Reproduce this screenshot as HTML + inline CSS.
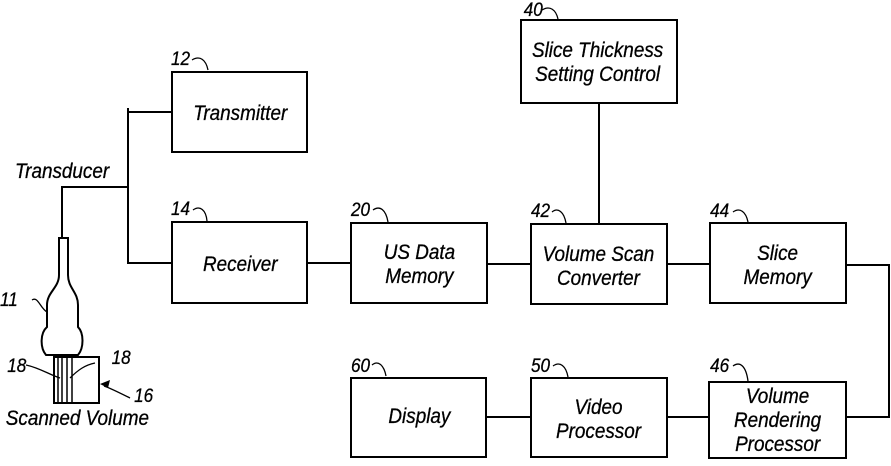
<!DOCTYPE html><html><head><style>body{margin:0;background:#fff}svg text{font-family:"Liberation Sans",sans-serif;font-style:italic;font-size:21px;fill:#000;stroke:#000;stroke-width:0.3}</style></head><body>
<svg width="891" height="461" viewBox="0 0 891 461" xmlns="http://www.w3.org/2000/svg">
<g fill="none" stroke="#000" stroke-width="2">
<rect x="172" y="72" width="135" height="80"/>
<rect x="521" y="20" width="156" height="83"/>
<rect x="172" y="222" width="135" height="81"/>
<rect x="351" y="223" width="136" height="80"/>
<rect x="531" y="224" width="136" height="80"/>
<rect x="710" y="223" width="136" height="80"/>
<rect x="351" y="378" width="135" height="79"/>
<rect x="531" y="378" width="136" height="79"/>
<rect x="709" y="382" width="137" height="76"/>
<path d="M128 108V263H172M128 112H172M128 187H62V238"/>
<path d="M307 263H351M487 264H531M667 264H710M599 103V224M846 265H889V417H846M667 417H709M486 417H531"/>
<path d="M59 238H68V275C68 288 78 292 78 305V327C84 333 84 348 78 355H46C40 348 40 333 47 327V305C47 292 59 288 59 275Z"/>
<rect x="54" y="357" width="45" height="46"/>
<path d="M58 357V403M62 357V403M67 357V403M72 357V403" stroke-width="1.5"/>
<path d="M192 60C200 55 206 60 208 70M193 210C200 205 206 210 207 221M373 210C380 205 386 210 388 222M552 212C558 207 564 212 566 223M542 10C550 5 556 10 558 19M733 212C740 207 746 212 748 222M372 365C378 360 384 365 386 376M553 366C560 361 566 366 568 377M733 366C740 361 746 366 748 381M32 300C38 296 40 308 47 312M26 365C40 368 50 375 60 378M95 363C85 365 78 370 70 378M130 398C118 392 110 388 104 386" stroke-width="1.3"/>
</g>
<path d="M100 384l10-4-2 8z" fill="#000"/>
<g text-anchor="middle" transform="scale(0.9 1)">
<text x="267" y="120">Transmitter</text>
<text x="664" y="57">Slice Thickness</text>
<text x="664" y="81">Setting Control</text>
<text x="267" y="271">Receiver</text>
<text x="466" y="259">US Data</text>
<text x="466" y="283">Memory</text>
<text x="665" y="261">Volume Scan</text>
<text x="665" y="285">Converter</text>
<text x="864" y="260">Slice</text>
<text x="864" y="284">Memory</text>
<text x="466" y="423">Display</text>
<text x="665" y="414">Video</text>
<text x="665" y="438">Processor</text>
<text x="864" y="403">Volume</text>
<text x="864" y="427">Rendering</text>
<text x="864" y="451">Processor</text>
<text x="69" y="178">Transducer</text>
<text x="86" y="425">Scanned Volume</text>
</g>
<g transform="scale(0.9 1)">
<text x="190" y="65" style="font-size:19px">12</text>
<text x="190" y="215" style="font-size:19px">14</text>
<text x="390" y="216" style="font-size:19px">20</text>
<text x="590" y="217" style="font-size:19px">42</text>
<text x="582" y="16" style="font-size:19px">40</text>
<text x="789" y="217" style="font-size:19px">44</text>
<text x="390" y="372" style="font-size:19px">60</text>
<text x="590" y="372" style="font-size:19px">50</text>
<text x="789" y="372" style="font-size:19px">46</text>
<text x="0" y="306" style="font-size:19px">11</text>
<text x="8" y="372" style="font-size:19px">18</text>
<text x="124" y="364" style="font-size:19px">18</text>
<text x="149" y="402" style="font-size:19px">16</text>
</g>
</svg></body></html>
